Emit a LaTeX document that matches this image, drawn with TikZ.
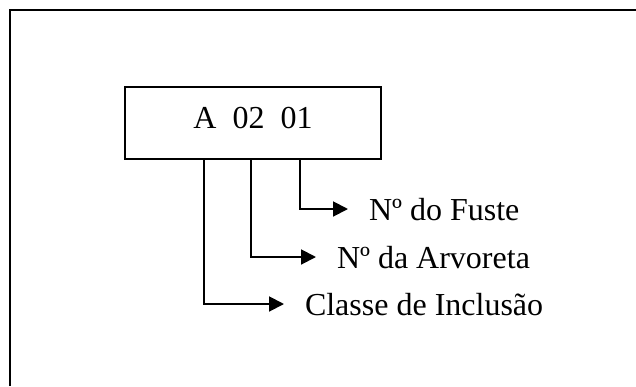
\documentclass[tikz,border=0pt]{standalone}
\usepackage{fontspec}
\setmainfont{Liberation Serif}
\usetikzlibrary{positioning,arrows.meta}

\begin{document}
\begin{tikzpicture}[x=0.375pt, y=-0.375pt, line width=0.75pt,
      nodes={font=\fontsize{12}{14}\selectfont},
      codelabel/.style={anchor=west, inner xsep=7.5pt, text height=8.9pt, text depth=0pt},
      pointer/.style={-{Triangle[length=5.6pt, width=5.6pt]}}]

      \useasboundingbox (0,0) rectangle (636,386);

      % Open frame, top and left sides
      \draw (10,386) -- (10,10) -- (636,10);

      % Code of the stem
      \node(code)[draw, minimum width=96pt, minimum height=27pt,
          text height=8.2pt, text depth=4.4pt] at (253,123) {A~ 02~ 01};

      % Meaning of each part
      \node(fuste)[codelabel] at (348,209) {Nº do Fuste};
      \node(arvoreta)[codelabel] at (316,257) {Nº da Arvoreta};
      \node(classe)[codelabel] at (284,304) {Classe de Inclusão};

      % Pointers from the code to the labels
      \draw[pointer] ([xshift=66pt]code.south west) |- (fuste.west);
      \draw[pointer] ([xshift=47.6pt]code.south west) |- (arvoreta.west);
      \draw[pointer] ([xshift=30pt]code.south west) |- (classe.west);

\end{tikzpicture}
\end{document}
